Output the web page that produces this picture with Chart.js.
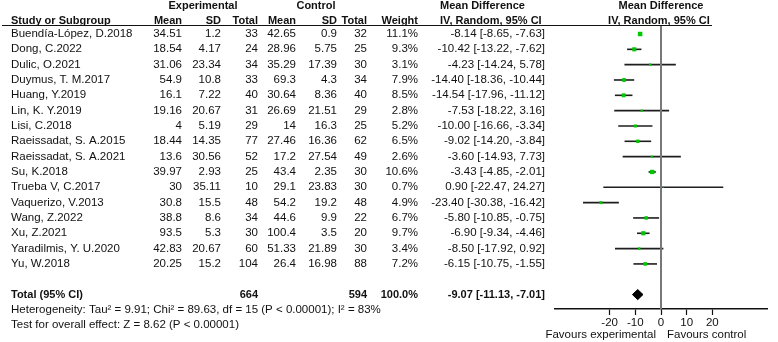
<!DOCTYPE html>
<html>
<head>
<meta charset="utf-8">
<script src="https://cdn.jsdelivr.net/npm/chart.js@4/dist/chart.umd.min.js"></script>
<style>
  html, body { margin: 0; padding: 0; background: #ffffff; }
  #wrap { position: relative; width: 778px; height: 342px; }
</style>
</head>
<body>
<div id="wrap"><canvas id="c"></canvas></div>
<script>
const studies = ["Buendía-López, D.2018","Dong, C.2022","Dulic, O.2021","Duymus, T. M.2017","Huang, Y.2019","Lin, K. Y.2019","Lisi, C.2018","Raeissadat, S. A.2015","Raeissadat, S. A.2021","Su, K.2018","Trueba V, C.2017","Vaquerizo, V.2013","Wang, Z.2022","Xu, Z.2021","Yaradilmis, Y. U.2020","Yu, W.2018"];
const expMean = [34.51,18.54,31.06,54.9,16.1,19.16,4,18.44,13.6,39.97,30,30.8,38.8,93.5,42.83,20.25];
const expSD   = [1.2,4.17,23.34,10.8,7.22,20.67,5.19,14.35,30.56,2.93,35.11,15.5,8.6,5.3,20.67,15.2];
const expN    = [33,24,34,33,40,31,29,77,52,25,10,48,34,30,60,104];
const ctlMean = [42.65,28.96,35.29,69.3,30.64,26.69,14,27.46,17.2,43.4,29.1,54.2,44.6,100.4,51.33,26.4];
const ctlSD   = [0.9,5.75,17.39,4.3,8.36,21.51,16.3,16.36,27.54,2.35,23.83,19.2,9.9,3.5,21.89,16.98];
const ctlN    = [32,25,30,34,40,29,25,62,49,30,30,48,22,20,30,88];
const weights = [11.1,9.3,3.1,7.9,8.5,2.8,5.2,6.5,2.6,10.6,0.7,4.9,6.7,9.7,3.4,7.2];
const md      = [-8.14,-10.42,-4.23,-14.40,-14.54,-7.53,-10.00,-9.02,-3.60,-3.43,0.90,-23.40,-5.80,-6.90,-8.50,-6.15];
const ciLow   = [-8.65,-13.22,-14.24,-18.36,-17.96,-18.22,-16.66,-14.20,-14.93,-4.85,-22.47,-30.38,-10.85,-9.34,-17.92,-10.75];
const ciHigh  = [-7.63,-7.62,5.78,-10.44,-11.12,3.16,-3.34,-3.84,7.73,-2.01,24.27,-16.42,-0.75,-4.46,0.92,-1.55];
const totalExpN = 664;
const totalCtlN = 594;
const totalWeight = 100.0;
const totalMD = -9.07, totalLow = -11.13, totalHigh = -7.01;
const xTicks = [-20,-10,0,10,20];
const nullEffect = 0;
const heterogeneityText = "Heterogeneity: Tau\u00b2 = 9.91; Chi\u00b2 = 89.63, df = 15 (P < 0.00001); I\u00b2 = 83%";
const overallText = "Test for overall effect: Z = 8.62 (P < 0.00001)";

const FONT = '"Liberation Sans", Arial, sans-serif';
const TOTAL_ROW = studies.length + 1;
const Y_MIN = -0.587, Y_MAX = 17.94;
const X_MIN = -41.3, X_MAX = 41.3;
const DIAMOND_HALF = 0.33;

const fmtCI = (m, l, h) => m.toFixed(2) + " [" + l.toFixed(2) + ", " + h.toFixed(2) + "]";

const datasets = [];
datasets.push({
  type: 'scatter',
  data: studies.map((s, i) => ({ x: md[i], y: i })),
  pointStyle: 'rect',
  pointRadius: weights.map(w => Math.sqrt(w) * 0.95),
  backgroundColor: '#00c800',
  borderColor: '#00c800',
  borderWidth: 0,
  order: 0
});
datasets.push({
  type: 'line',
  data: [
    { x: totalLow, y: TOTAL_ROW },
    { x: totalMD, y: TOTAL_ROW - DIAMOND_HALF },
    { x: totalHigh, y: TOTAL_ROW },
    { x: totalMD, y: TOTAL_ROW + DIAMOND_HALF },
    { x: totalLow, y: TOTAL_ROW }
  ],
  borderColor: '#000',
  backgroundColor: '#000',
  borderWidth: 1,
  pointRadius: 0,
  fill: 'shape',
  tension: 0,
  order: 1
});
studies.forEach((s, i) => {
  datasets.push({
    type: 'line',
    data: [{ x: ciLow[i], y: i }, { x: ciHigh[i], y: i }],
    borderColor: '#1e1e1e',
    borderWidth: 1.6,
    pointRadius: 0,
    fill: false,
    order: 2
  });
});

const tablePlugin = {
  id: 'table',
  afterDraw(chart) {
    const ctx = chart.ctx;
    const ys = chart.scales.y;
    const xs = chart.scales.x;
    const a = chart.chartArea;
    const reg = '11.5px ' + FONT;
    const bold = 'bold 11px ' + FONT;
    const txt = (s, x, y, align, font) => {
      ctx.font = font; ctx.textAlign = align; ctx.textBaseline = 'middle';
      ctx.fillStyle = '#111'; ctx.fillText(s, x, y);
    };
    ctx.save();
    // zero (no-effect) line
    const zx0 = Math.round(xs.getPixelForValue(nullEffect));
    ctx.fillStyle = '#787878';
    ctx.fillRect(zx0 - 1, a.top, 2, a.bottom - a.top);

    const h1 = ys.getPixelForValue(-1.85);
    const h2 = ys.getPixelForValue(-0.85);
    txt('Experimental', 203, h1, 'center', bold);
    txt('Control', 316, h1, 'center', bold);
    txt('Mean Difference', 440, h1, 'left', bold);
    txt('Mean Difference', xs.getPixelForValue(0), h1, 'center', bold);
    txt('Study or Subgroup', 11, h2, 'left', bold);
    txt('Mean', 182, h2, 'right', bold);
    txt('SD', 221, h2, 'right', bold);
    txt('Total', 258, h2, 'right', bold);
    txt('Mean', 296, h2, 'right', bold);
    txt('SD', 337, h2, 'right', bold);
    txt('Total', 367, h2, 'right', bold);
    txt('Weight', 418, h2, 'right', bold);
    txt('IV, Random, 95% CI', 440, h2, 'left', bold);
    txt('IV, Random, 95% CI', xs.getPixelForValue(-0.8), h2, 'center', bold);
    const uy = ys.getPixelForValue(Y_MIN) + 0.5;
    ctx.strokeStyle = '#111'; ctx.lineWidth = 1;
    ctx.beginPath(); ctx.moveTo(2, uy); ctx.lineTo(712, uy); ctx.stroke();
    studies.forEach((s, i) => {
      const y = ys.getPixelForValue(i);
      txt(s, 11, y, 'left', reg);
      txt(String(expMean[i]), 182, y, 'right', reg);
      txt(String(expSD[i]), 221, y, 'right', reg);
      txt(String(expN[i]), 258, y, 'right', reg);
      txt(String(ctlMean[i]), 296, y, 'right', reg);
      txt(String(ctlSD[i]), 337, y, 'right', reg);
      txt(String(ctlN[i]), 367, y, 'right', reg);
      txt(weights[i].toFixed(1) + '%', 418, y, 'right', reg);
      txt(fmtCI(md[i], ciLow[i], ciHigh[i]), 545, y, 'right', reg);
    });
    const ty = ys.getPixelForValue(TOTAL_ROW);
    txt('Total (95% CI)', 11, ty, 'left', bold);
    txt(String(totalExpN), 258, ty, 'right', bold);
    txt(String(totalCtlN), 367, ty, 'right', bold);
    txt(totalWeight.toFixed(1) + '%', 418, ty, 'right', bold);
    txt(fmtCI(totalMD, totalLow, totalHigh), 545, ty, 'right', bold);
    txt(heterogeneityText, 11, ys.getPixelForValue(TOTAL_ROW + 1), 'left', reg);
    txt(overallText, 11, ys.getPixelForValue(TOTAL_ROW + 2), 'left', reg);
    const zx = xs.getPixelForValue(0);
    const fy = 335;
    txt('Favours experimental', zx - 5, fy, 'right', '11.5px ' + FONT);
    txt('Favours control', zx + 6, fy, 'left', '11.5px ' + FONT);
    ctx.restore();
  }
};

new Chart(document.getElementById('c'), {
  type: 'scatter',
  data: { datasets },
  options: {
    responsive: true,
    maintainAspectRatio: false,
    animation: false,
    events: [],
    layout: { padding: { left: 555, right: 11, top: 25, bottom: 0 } },
    plugins: { legend: { display: false }, tooltip: { enabled: false } },
    scales: {
      x: {
        type: 'linear',
        position: 'bottom',
        min: X_MIN,
        max: X_MAX,
        afterBuildTicks: (scale) => { scale.ticks = xTicks.map(v => ({ value: v })); },
        afterFit: (scale) => { scale.height = 33; },
        grid: {
          drawOnChartArea: false,
          drawTicks: true,
          tickLength: 6,
          color: '#111',
          tickColor: '#111',
          tickWidth: 1.2
        },
        border: { display: true, color: '#111', width: 1.5 },
        ticks: { color: '#111', padding: 1, font: { family: FONT, size: 11.5 }, maxRotation: 0 }
      },
      y: {
        type: 'linear',
        display: false,
        reverse: true,
        min: Y_MIN,
        max: Y_MAX
      }
    }
  },
  plugins: [tablePlugin]
});
</script>
</body>
</html>
